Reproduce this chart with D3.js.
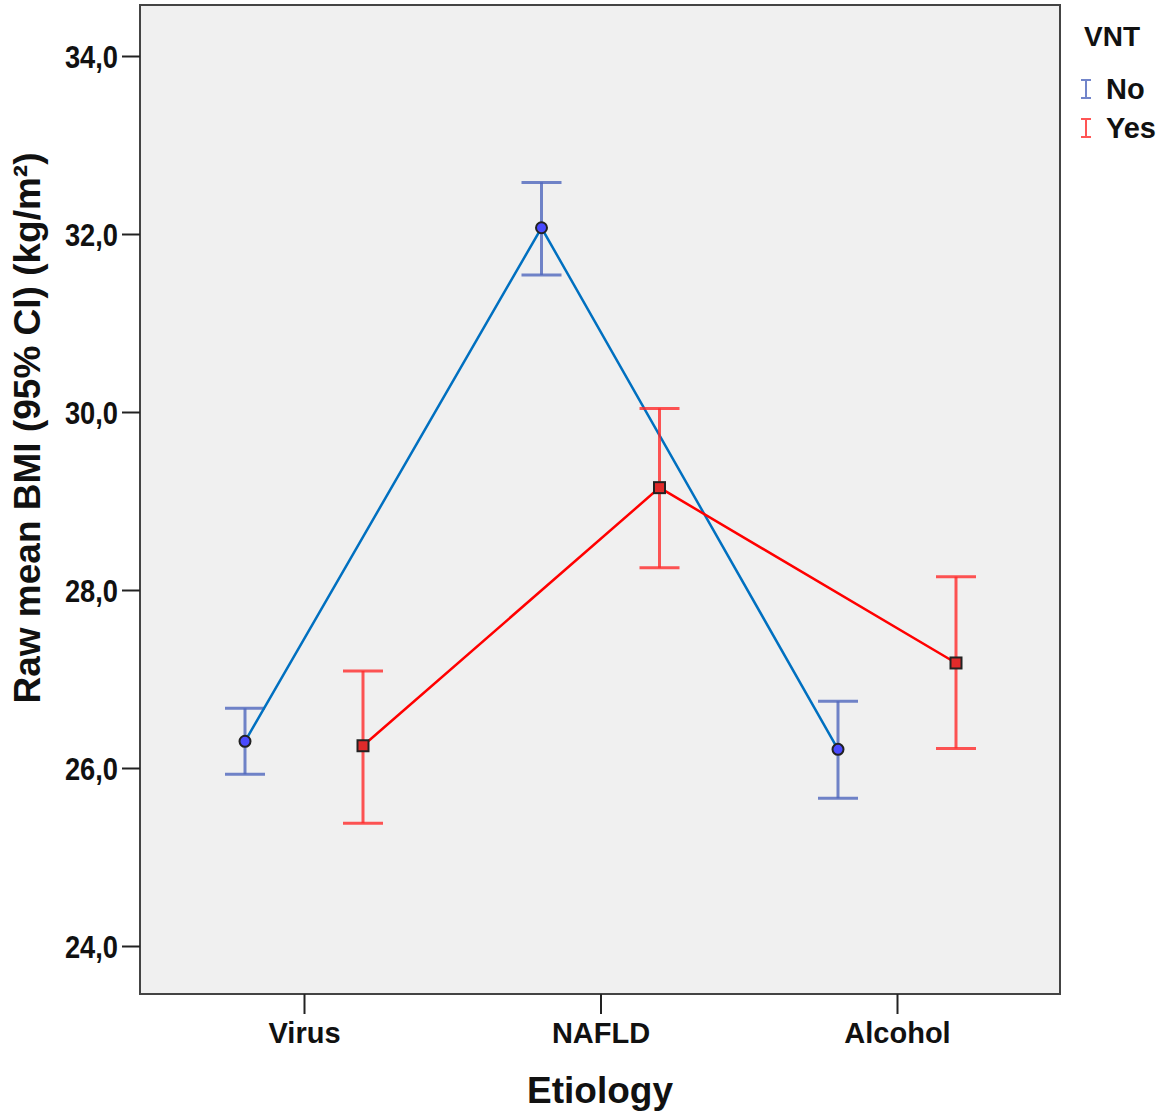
<!DOCTYPE html>
<html>
<head>
<meta charset="utf-8">
<script src="https://cdn.jsdelivr.net/npm/d3@7"></script>
<style>
  body { margin: 0; background: #fff; }
  text { font-family: "Liberation Sans", Arial, sans-serif; font-weight: bold; fill: #111; }
</style>
</head>
<body>
<script>
var categories = ['Virus', 'NAFLD', 'Alcohol'];
var groups = ['No', 'Yes'];
var meanNo = [26.30, 32.07, 26.21];
var lowNo = [25.93, 31.54, 25.66];
var highNo = [26.67, 32.58, 26.75];
var meanYes = [26.25, 29.15, 27.18];
var lowYes = [25.38, 28.25, 26.22];
var highYes = [27.09, 30.04, 28.15];
var yTicks = [24, 26, 28, 30, 32, 34];

var W = 1163, H = 1114;
var m = { left: 140, top: 5, right: 103, bottom: 120 };
var colors = { No: { bar: '#4f66bd', line: '#0070c0', mark: '#4a4aff' },
               Yes: { bar: '#ff2a2a', line: '#ff0000', mark: '#e02a2a' } };

var svg = d3.select('body').append('svg')
  .attr('width', W)
  .attr('height', H);

var x = d3.scalePoint()
  .domain(categories)
  .range([304, 897]);

var xg = d3.scalePoint()
  .domain(groups)
  .range([-59, 59]);

var y = d3.scaleLinear()
  .domain([24, 34])
  .range([946, 56]);

var plotR = W - m.right;

svg.append('rect')
  .attr('x', m.left).attr('y', m.top)
  .attr('width', plotR - m.left).attr('height', 994 - m.top)
  .attr('fill', '#f0f0f0')
  .attr('stroke', '#444').attr('stroke-width', 2);

// axes
var yAxis = svg.append('g')
  .attr('transform', 'translate(' + m.left + ',0)')
  .call(d3.axisLeft(y).tickValues(yTicks).tickSize(18).tickPadding(2)
    .tickFormat(function(d) { return d3.format('.1f')(d).replace('.', ','); }));
yAxis.select('.domain').remove();
yAxis.selectAll('.tick line').attr('stroke', '#222').attr('stroke-width', 2);
// condensed look of the original tick font
yAxis.selectAll('.tick text')
  .attr('font-size', 31)
  .attr('x', -22 / 0.88)
  .attr('dy', '0.36em')
  .attr('transform', 'scale(0.88,1)');

var xAxis = svg.append('g')
  .attr('transform', 'translate(0,994)')
  .call(d3.axisBottom(x).tickSize(20).tickPadding(8));
xAxis.select('.domain').remove();
xAxis.selectAll('.tick line').attr('stroke', '#222').attr('stroke-width', 2);
xAxis.selectAll('.tick text').attr('font-size', 29);

svg.append('text')
  .attr('x', 600).attr('y', 1103)
  .attr('text-anchor', 'middle')
  .attr('font-size', 37)
  .text('Etiology');

svg.append('text')
  .attr('transform', 'translate(40,428) rotate(-90)')
  .attr('text-anchor', 'middle')
  .attr('font-size', 37)
  .text('Raw mean BMI (95% CI) (kg/m²)');

var series = [
  { key: 'No', mean: meanNo, low: lowNo, high: highNo },
  { key: 'Yes', mean: meanYes, low: lowYes, high: highYes }
];

series.forEach(function(s) {
  var pts = categories.map(function(c, i) {
    return { x: x(c) + xg(s.key), m: s.mean[i], lo: s.low[i], hi: s.high[i] };
  });
  var c = colors[s.key];
  var g = svg.append('g');

  // error bars
  var eb = g.selectAll('.eb').data(pts).enter().append('g')
    .attr('stroke', c.bar).attr('stroke-opacity', 0.8).attr('stroke-width', 3);
  eb.append('line')
    .attr('x1', function(d) { return d.x; }).attr('x2', function(d) { return d.x; })
    .attr('y1', function(d) { return y(d.lo); }).attr('y2', function(d) { return y(d.hi); });
  eb.append('line')
    .attr('x1', function(d) { return d.x - 20; }).attr('x2', function(d) { return d.x + 20; })
    .attr('y1', function(d) { return y(d.hi); }).attr('y2', function(d) { return y(d.hi); });
  eb.append('line')
    .attr('x1', function(d) { return d.x - 20; }).attr('x2', function(d) { return d.x + 20; })
    .attr('y1', function(d) { return y(d.lo); }).attr('y2', function(d) { return y(d.lo); });

  // connecting line
  g.append('path')
    .datum(pts)
    .attr('fill', 'none')
    .attr('stroke', c.line)
    .attr('stroke-width', 2.5)
    .attr('d', d3.line().x(function(d) { return d.x; }).y(function(d) { return y(d.m); }));

  // markers
  if (s.key === 'No') {
    g.selectAll('.mk').data(pts).enter().append('circle')
      .attr('cx', function(d) { return d.x; })
      .attr('cy', function(d) { return y(d.m); })
      .attr('r', 5.5)
      .attr('fill', c.mark).attr('stroke', '#222').attr('stroke-width', 2);
  } else {
    g.selectAll('.mk').data(pts).enter().append('rect')
      .attr('x', function(d) { return d.x - 5.5; })
      .attr('y', function(d) { return y(d.m) - 5.5; })
      .attr('width', 11).attr('height', 11)
      .attr('fill', c.mark).attr('stroke', '#222').attr('stroke-width', 2);
  }
});

// legend
var lg = svg.append('g');
lg.append('text')
  .attr('x', 1084).attr('y', 46)
  .attr('font-size', 28)
  .text('VNT');

var li = lg.selectAll('.li').data(groups).enter().append('g')
  .attr('transform', function(d, i) { return 'translate(1086,' + (89 + i * 39) + ')'; });
li.append('path')
  .attr('d', 'M-5,-9H5M0,-9V9M-5,9H5')
  .attr('fill', 'none')
  .attr('stroke', function(d) { return colors[d].bar; })
  .attr('stroke-opacity', 0.8)
  .attr('stroke-width', 2);
li.append('text')
  .attr('x', 20).attr('y', 10)
  .attr('font-size', 29)
  .text(function(d) { return d; });
</script>
</body>
</html>
